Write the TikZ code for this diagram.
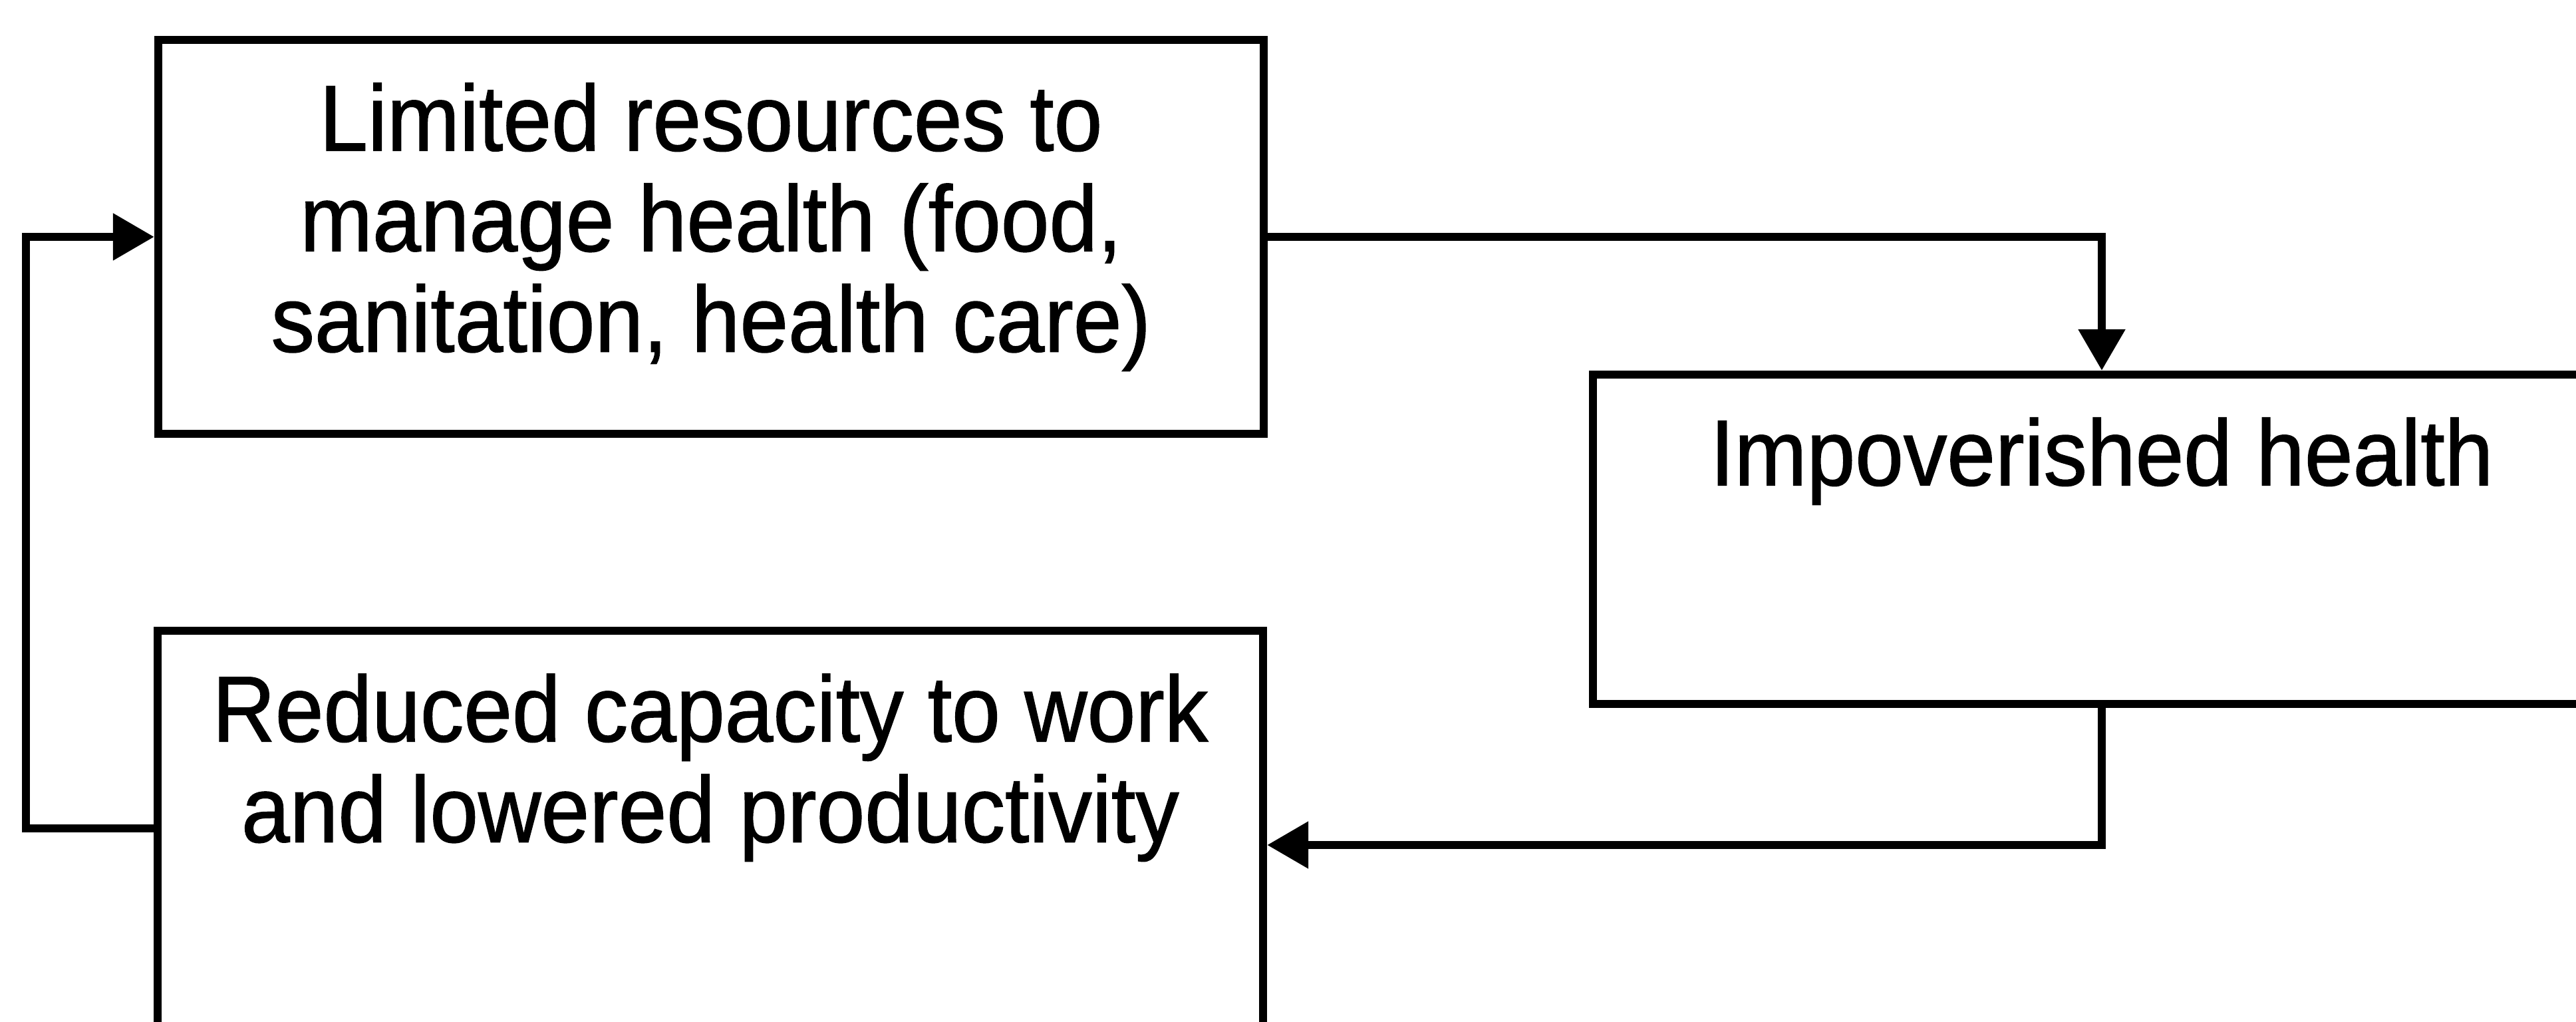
\documentclass[tikz,border=0pt]{standalone}
\usepackage{fontspec}
\setmainfont{Liberation Sans}[FakeStretch=0.93, FakeBold=1]
\usetikzlibrary{arrows.meta, positioning}

\begin{document}
\begin{tikzpicture}[
  cyclebox/.style={draw, line width=3.5pt, minimum width=16.62cm, inner sep=0pt},
  boxtext/.style={align=center, inner sep=0pt, font=\fontsize{40}{43}\selectfont},
  link/.style={line width=3.5pt, -{Triangle[length=0.62cm, width=0.68cm]}}
]
  \useasboundingbox (0,0) rectangle (38.73,15.35);
  \clip (0,0) rectangle (38.73,15.35);

  % Limited resources
  \node[cyclebox, minimum height=5.92cm] (limbox) at (10.69, 11.79) {};
  \node[boxtext, below=0.70cm of limbox.north] (limtext) {Limited resources to\\manage health (food,\\sanitation, health care)};

  % Impoverished health
  \node[cyclebox, minimum width=15.30cm, minimum height=4.95cm] (impbox) at (31.60, 7.245) {};
  \node[boxtext, below=0.70cm of impbox.north] (imptext) {Impoverished health};

  % Reduced capacity
  \node[cyclebox, minimum height=6.44cm] (redbox) at (10.68, 2.65) {};
  \node[boxtext, below=0.70cm of redbox.north] (redtext) {Reduced capacity to work\\and lowered productivity};

  % the cycle
  \draw[link] (limbox.east) -| (impbox.north);
  \draw[link] (impbox.south) |- (redbox.east);
  \draw[link] ([yshift=2.5mm]redbox.west) -- ++(-1.92,0) |- (limbox.west);
\end{tikzpicture}
\end{document}
